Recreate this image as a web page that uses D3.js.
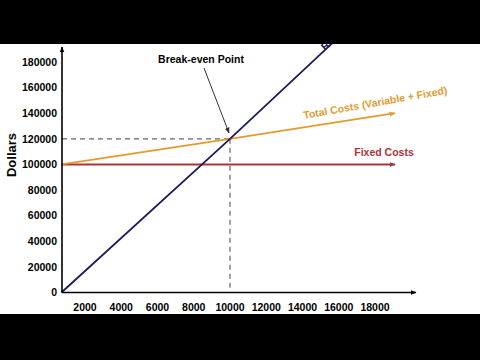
<!DOCTYPE html>
<html>
<head>
<meta charset="utf-8">
<script src="https://cdn.jsdelivr.net/npm/d3@7"></script>
<style>
  body { margin: 0; background: #000; }
  svg { display: block; font-family: "Liberation Sans", Arial, sans-serif; }
</style>
</head>
<body>
<svg id="chart" width="480" height="360"></svg>
<script>
// chart values
var xTicks = [2000, 4000, 6000, 8000, 10000, 12000, 14000, 16000, 18000];
var yTicks = [0, 20000, 40000, 60000, 80000, 100000, 120000, 140000, 160000, 180000];
var revenue = [[700, 0], [10000, 120000], [16500, 206000]];
var totalCosts = [[700, 100000], [10000, 120000], [19100, 140000]];
var fixedCosts = [[700, 100000], [19100, 100000]];
var breakEven = [10000, 120000];

var svg = d3.select("#chart");

// white picture area between the black bars
svg.append("rect").attr("x", 0).attr("y", 44).attr("width", 480).attr("height", 270).attr("fill", "#fff");

var x = d3.scaleLinear().domain([0, 20000]).range([48.75, 411.25]);
var y = d3.scaleLinear().domain([0, 180000]).range([292.5, 62]);
var x0 = 62; // where the y axis sits

var defs = svg.append("defs");
function marker(id, color) {
  defs.append("marker").attr("id", id)
    .attr("viewBox", "0 0 10 10").attr("refX", 9).attr("refY", 5)
    .attr("markerWidth", 6).attr("markerHeight", 6)
    .attr("markerUnits", "userSpaceOnUse")
    .attr("orient", "auto")
    .append("path").attr("d", "M0,1 L10,5 L0,9 Z").attr("fill", color);
}
marker("arBlack", "#000");
marker("arOrange", "#e39b2f");
marker("arRed", "#a9353a");
marker("arGrey", "#333");

var line = d3.line().x(d => x(d[0])).y(d => y(d[1]));

// dashed guides to the break-even point
svg.append("line")
  .attr("x1", x0).attr("x2", x(breakEven[0]))
  .attr("y1", y(breakEven[1])).attr("y2", y(breakEven[1]))
  .attr("stroke", "#666").attr("stroke-width", 1.2).attr("stroke-dasharray", "5,4");
svg.append("line")
  .attr("x1", x(breakEven[0])).attr("x2", x(breakEven[0]))
  .attr("y1", y(breakEven[1])).attr("y2", y(0) - 2)
  .attr("stroke", "#666").attr("stroke-width", 1.2).attr("stroke-dasharray", "5,4");

// fixed costs
svg.append("path").datum(fixedCosts).attr("d", line)
  .attr("fill", "none").attr("stroke", "#a9353a").attr("stroke-width", 2)
  .attr("marker-end", "url(#arRed)");

// total costs
svg.append("path").datum(totalCosts).attr("d", line)
  .attr("fill", "none").attr("stroke", "#e39b2f").attr("stroke-width", 1.8)
  .attr("marker-end", "url(#arOrange)");

// revenue
svg.append("path").datum(revenue).attr("d", line)
  .attr("fill", "none").attr("stroke", "#1d1b5c").attr("stroke-width", 1.8);

// axes
svg.append("line").attr("x1", x0).attr("x2", x0).attr("y1", y(0)).attr("y2", 47)
  .attr("stroke", "#000").attr("stroke-width", 1.6).attr("marker-end", "url(#arBlack)");
svg.append("line").attr("x1", x0).attr("x2", 416).attr("y1", y(0)).attr("y2", y(0))
  .attr("stroke", "#000").attr("stroke-width", 1.6).attr("marker-end", "url(#arBlack)");

svg.append("g").selectAll("text").data(yTicks).enter().append("text")
  .attr("x", 57).attr("y", d => y(d)).attr("dy", "0.35em")
  .attr("text-anchor", "end").attr("font-size", 10.5).attr("font-weight", "bold")
  .text(d => d);

svg.append("g").selectAll("text").data(xTicks).enter().append("text")
  .attr("x", d => x(d)).attr("y", 311)
  .attr("text-anchor", "middle").attr("font-size", 10.5).attr("font-weight", "bold")
  .text(d => d);

svg.append("text")
  .attr("transform", "translate(16,155) rotate(-90)")
  .attr("text-anchor", "middle").attr("font-size", 13).attr("font-weight", "bold")
  .text("Dollars");

// annotations
svg.append("text").attr("x", 201).attr("y", 63)
  .attr("text-anchor", "middle").attr("font-size", 10.5).attr("font-weight", "bold")
  .text("Break-even Point");
svg.append("line").attr("x1", 204).attr("y1", 68).attr("x2", 229).attr("y2", 133)
  .attr("stroke", "#333").attr("stroke-width", 1).attr("marker-end", "url(#arGrey)");

svg.append("text")
  .attr("transform", "translate(304,119) rotate(-10)")
  .attr("font-size", 10.5).attr("font-weight", "bold").attr("fill", "#e39b2f")
  .text("Total Costs (Variable + Fixed)");

svg.append("text").attr("x", 384).attr("y", 156)
  .attr("text-anchor", "middle").attr("font-size", 10.5).attr("font-weight", "bold")
  .attr("fill", "#a9353a")
  .text("Fixed Costs");

svg.append("text")
  .attr("transform", "translate(325,51) rotate(-42.5)")
  .attr("font-size", 10.5).attr("font-weight", "bold").attr("fill", "#1d1b5c")
  .text("Revenue");

// black letterbox bars
svg.append("rect").attr("x", 0).attr("y", 0).attr("width", 480).attr("height", 44).attr("fill", "#000");
svg.append("rect").attr("x", 0).attr("y", 314).attr("width", 480).attr("height", 46).attr("fill", "#000");
</script>
</body>
</html>
